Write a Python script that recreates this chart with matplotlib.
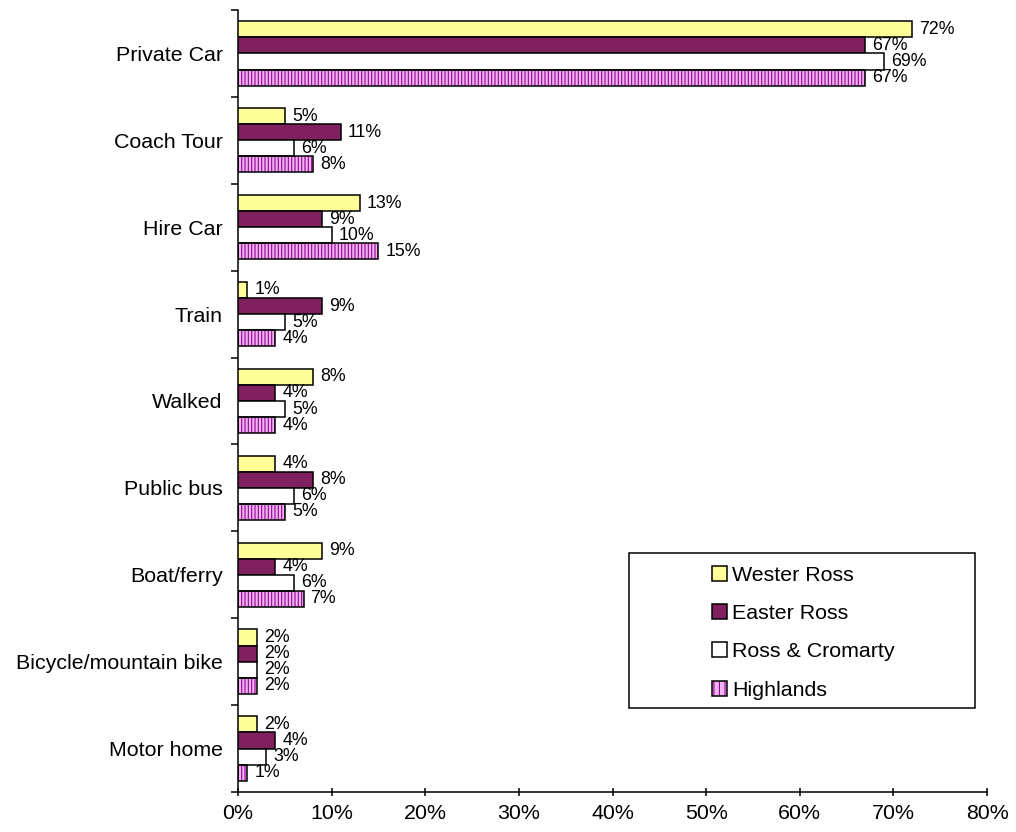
import numpy as np
import matplotlib.pyplot as plt
from matplotlib.patches import Patch, Rectangle
from matplotlib.legend_handler import HandlerTuple
from matplotlib.ticker import PercentFormatter

plt.rcParams['font.family'] = ['Liberation Sans', 'DejaVu Sans']
plt.rcParams['hatch.linewidth'] = 0.8

# mode of transport, share of visitors per area (%)
categories = ["Private Car", "Coach Tour", "Hire Car", "Train", "Walked",
              "Public bus", "Boat/ferry", "Bicycle/mountain bike", "Motor home"]
wester_ross = [72, 5, 13, 1, 8, 4, 9, 2, 2]
easter_ross = [67, 11, 9, 9, 4, 8, 4, 2, 4]
ross_cromarty = [69, 6, 10, 5, 5, 6, 6, 2, 3]
highlands = [67, 8, 15, 4, 4, 5, 7, 2, 1]

series = [
    ("Wester Ross", wester_ross, "#FFFF99", None),
    ("Easter Ross", easter_ross, "#80205F", None),
    ("Ross & Cromarty", ross_cromarty, "#FFFFFF", None),
    ("Highlands", highlands, "#EEB4EE", "|||||"),
]
HATCH_COLOR = "#990099"

AXIS_FS = 15.4
VALUE_FS = 12.8

fig = plt.figure(figsize=(10.16, 8.32), dpi=100)
ax = fig.add_axes([0.2343, 0.0481, 0.7372, 0.9399])

y = np.arange(len(categories))
h = 0.185
offsets = np.array([-1.5, -0.5, 0.5, 1.5]) * h

handles = []
for (name, vals, col, hatch), off in zip(series, offsets):
    pos = y + off
    if hatch:
        # hatch drawn in its own colour, then a black outline on top
        ax.barh(pos, vals, height=h, color=col, edgecolor=HATCH_COLOR,
                hatch=hatch, linewidth=0, zorder=2)
        ax.barh(pos, vals, height=h, facecolor="none", edgecolor="black",
                linewidth=1.1, zorder=3)
        hnd = (Patch(facecolor=col, edgecolor=HATCH_COLOR, hatch="|||", linewidth=0),
               Patch(facecolor="none", edgecolor="black", linewidth=1.1))
    else:
        ax.barh(pos, vals, height=h, color=col, edgecolor="black",
                linewidth=1.1, zorder=3)
        hnd = Patch(facecolor=col, edgecolor="black", linewidth=1.1)
    handles.append(hnd)
    for p, v in zip(pos, vals):
        ax.annotate(f"{v}%", (v, p), xytext=(5, 0), textcoords="offset points",
                    ha="left", va="center", fontsize=VALUE_FS, zorder=4)

ax.set_xlim(0, 80)
ax.set_ylim(len(categories) - 0.5, -0.5)
ax.xaxis.set_major_formatter(PercentFormatter(decimals=0))
ax.set_xticks(np.arange(0, 81, 10))

# category labels centred, tick marks between groups
ax.set_yticks(y)
ax.set_yticklabels(categories, fontsize=AXIS_FS)
ax.tick_params(axis="y", which="major", length=0, pad=11)
ax.set_yticks(np.arange(len(categories) + 1) - 0.5, minor=True)
ax.tick_params(axis="y", which="minor", length=5, width=1.1, direction="out")
ax.tick_params(axis="x", length=6, width=1.1, direction="inout",
               labelsize=AXIS_FS, pad=6)

for s in ["top", "right"]:
    ax.spines[s].set_visible(False)
for s in ["left", "bottom"]:
    ax.spines[s].set_linewidth(1.1)

# legend box
ax.add_patch(Rectangle((0.522, 0.1074), 0.462, 0.1982, transform=ax.transAxes,
                       facecolor="white", edgecolor="black", linewidth=1.1,
                       zorder=5, clip_on=False))
leg = ax.legend(handles, [s[0] for s in series], loc="upper left",
                bbox_to_anchor=(0.633, 0.2896), frameon=False, fontsize=AXIS_FS,
                handlelength=0.7, handleheight=0.7, handletextpad=0.25,
                labelspacing=0.91, borderpad=0, borderaxespad=0,
                handler_map={tuple: HandlerTuple(ndivide=1, pad=0)})
leg.set_zorder(6)

fig.savefig("out.png", dpi=100)
